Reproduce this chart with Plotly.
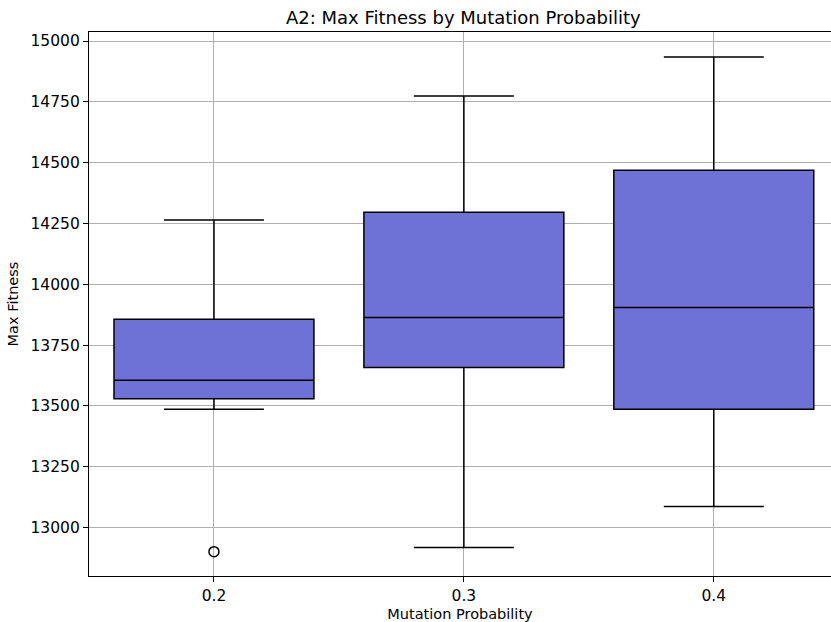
import plotly.graph_objects as go

categories = ["0.2", "0.3", "0.4"]
q1 = [13530, 13658, 13486]
median = [13606, 13864, 13905]
q3 = [13856, 14296, 14469]
lower_whisker = [13486, 12918, 13087]
upper_whisker = [14264, 14774, 14934]
outlier_x = ["0.2"]
outlier_y = [12901]
y_ticks = [13000, 13250, 13500, 13750, 14000, 14250, 14500, 14750, 15000]

fill = "rgb(110,114,214)"
font_family = "DejaVu Sans"

fig = go.Figure()
fig.add_trace(go.Box(
    x=categories, q1=q1, median=median, q3=q3,
    lowerfence=lower_whisker, upperfence=upper_whisker,
    fillcolor=fill, line=dict(color="black", width=1.5),
    width=0.8, whiskerwidth=0.5, boxpoints=False, showlegend=False,
    hoverinfo="y",
))
fig.add_trace(go.Scatter(
    x=outlier_x, y=outlier_y, mode="markers",
    marker=dict(symbol="circle-open", size=10, color="black", line=dict(width=1.5)),
    showlegend=False,
))

fig.update_layout(
    width=831, height=622,
    margin=dict(l=89, r=0, t=32, b=46),
    paper_bgcolor="white", plot_bgcolor="white",
    font=dict(family=font_family, size=14.5, color="black"),
    title=dict(text="A2: Max Fitness by Mutation Probability", x=0.5575, xanchor="center",
               y=0.972, yanchor="middle", font=dict(size=18, color="black")),
)
fig.update_xaxes(
    type="category", categoryorder="array", categoryarray=categories,
    range=[-0.5, 2.469],
    showgrid=True, gridcolor="#b0b0b0", gridwidth=1,
    showline=True, linecolor="black", linewidth=1.25, mirror=True,
    ticks="outside", ticklen=5, tickwidth=1.25, tickcolor="black",
    tickfont=dict(size=15.5),
    title=dict(text="Mutation Probability", font=dict(size=14.5), standoff=5),
    zeroline=False,
)
fig.update_yaxes(
    range=[12801, 15037],
    tickvals=y_ticks, ticktext=[str(v) for v in y_ticks],
    showgrid=True, gridcolor="#b0b0b0", gridwidth=1,
    showline=True, linecolor="black", linewidth=1.25,
    ticks="outside", ticklen=5, tickwidth=1.25, tickcolor="black",
    tickfont=dict(size=15.5),
    title=dict(text="Max Fitness", font=dict(size=14.5), standoff=8),
    zeroline=False,
)

fig.write_html("out.html")
